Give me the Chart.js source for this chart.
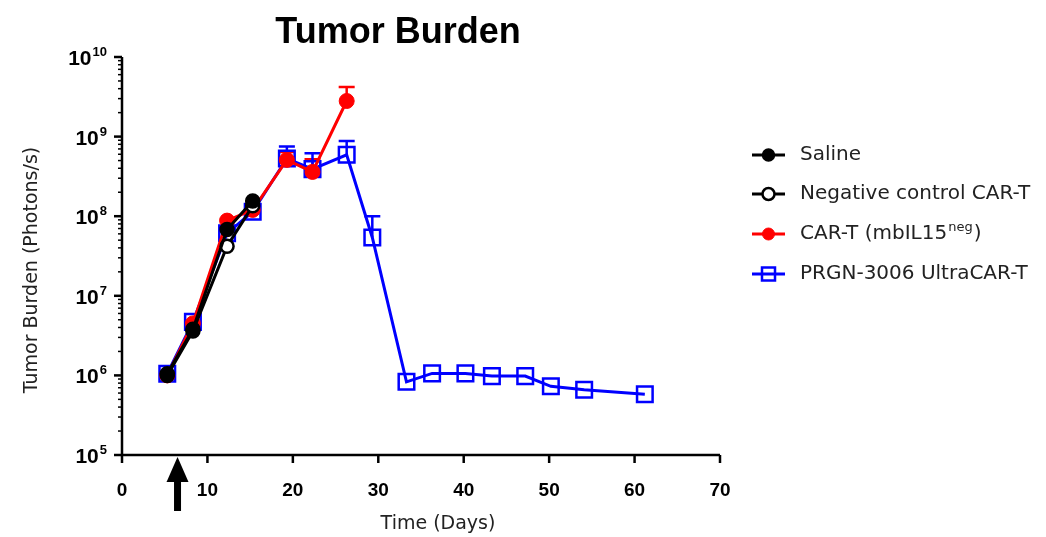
<!DOCTYPE html>
<html>
<head>
<meta charset="utf-8">
<title>Tumor Burden</title>
<script src="https://cdn.jsdelivr.net/npm/chart.js@4.4.1/dist/chart.umd.min.js"></script>
<style>
  html, body { margin: 0; padding: 0; background: #fff; }
  #wrap { width: 1046px; height: 537px; position: relative; }
</style>
</head>
<body>
<div id="wrap"><canvas id="tumor-chart" width="1046" height="537"></canvas></div>
<script>
// --- data ---
const salineDays = [5.3, 8.3, 12.3, 15.3];
const salineVals = [1.05e6, 3.8e6, 6.8e7, 1.55e8];

const negDays = [5.3, 8.3, 12.3, 15.3];
const negVals = [1.0e6, 3.6e6, 4.2e7, 1.35e8];

const carDays = [5.3, 8.3, 12.3, 15.3, 19.3, 22.3, 26.3];
const carVals = [1.0e6, 4.5e6, 8.8e7, 1.2e8, 5.1e8, 3.6e8, 2.8e9];
const carErr  = [0, 0, 0, 0, 1.3e8, 1.6e8, 1.4e9];

const ultraDays = [5.3, 8.3, 12.3, 15.3, 19.3, 22.3, 26.3, 29.3,
                   33.3, 36.3, 40.2, 43.3, 47.2, 50.2, 54.1, 61.2];
const ultraVals = [1.05e6, 4.7e6, 6.1e7, 1.14e8, 5.3e8, 3.9e8, 5.9e8, 5.4e7,
                   8.3e5, 1.06e6, 1.06e6, 9.8e5, 9.8e5, 7.3e5, 6.6e5, 5.8e5];
const ultraErr  = [0, 0, 0, 0, 2.2e8, 2.3e8, 2.9e8, 4.6e7, 0, 0, 0, 0, 0, 0, 0, 0];

const xTicks = [0, 10, 20, 30, 40, 50, 60, 70];
const yDecades = [5, 6, 7, 8, 9, 10];
const dosingDay = 6.5;

const legendLabels = ['Saline', 'Negative control CAR-T', 'CAR-T (mbIL15', 'PRGN-3006 UltraCAR-T'];

function pts(days, vals) {
  return days.map((d, i) => ({ x: d, y: vals[i] }));
}

const FONT = '"DejaVu Sans", sans-serif';
const BOLD = '"Liberation Sans", Arial, sans-serif';

// error bars (upper only), drawn under the markers
const errorBars = {
  id: 'errorBars',
  beforeDatasetsDraw(chart) {
    const ctx = chart.ctx;
    const xs = chart.scales.x, ys = chart.scales.y;
    chart.data.datasets.forEach((ds) => {
      if (!ds.errUp) return;
      ctx.save();
      ctx.strokeStyle = ds.borderColor;
      ctx.lineWidth = 2.5;
      ds.data.forEach((p, i) => {
        const e = ds.errUp[i];
        if (!e) return;
        const px = xs.getPixelForValue(p.x);
        const y0 = ys.getPixelForValue(p.y);
        const y1 = ys.getPixelForValue(p.y + e);
        ctx.beginPath();
        ctx.moveTo(px, y0);
        ctx.lineTo(px, y1);
        ctx.moveTo(px - 8, y1);
        ctx.lineTo(px + 8, y1);
        ctx.stroke();
      });
      ctx.restore();
    });
  }
};

function drawMarker(ctx, ds, x, y) {
  ctx.save();
  ctx.lineWidth = ds.pointBorderWidth;
  ctx.strokeStyle = ds.pointBorderColor;
  ctx.fillStyle = ds.pointBackgroundColor;
  ctx.beginPath();
  if (ds.pointStyle === 'rect') {
    const s = 6.5;
    ctx.rect(x - s, y - s, 2 * s, 2 * s);
  } else {
    ctx.arc(x, y, 6, 0, Math.PI * 2);
  }
  ctx.fill();
  ctx.stroke();
  ctx.restore();
}

// axes, labels, title, legend and the dosing arrow
const decorations = {
  id: 'decorations',
  afterDraw(chart) {
    const ctx = chart.ctx;
    const a = chart.chartArea;
    const xs = chart.scales.x, ys = chart.scales.y;
    ctx.save();
    ctx.strokeStyle = '#000';
    ctx.fillStyle = '#000';
    ctx.lineWidth = 2.5;

    // axis lines
    ctx.beginPath();
    ctx.moveTo(a.left, a.top);
    ctx.lineTo(a.left, a.bottom);
    ctx.lineTo(a.right, a.bottom);
    ctx.stroke();

    // x ticks + labels
    ctx.font = 'bold 19px ' + BOLD;
    ctx.textAlign = 'center';
    ctx.textBaseline = 'middle';
    xTicks.forEach(t => {
      const px = xs.getPixelForValue(t);
      ctx.beginPath();
      ctx.moveTo(px, a.bottom);
      ctx.lineTo(px, a.bottom + 8);
      ctx.stroke();
      ctx.fillText(String(t), px, a.bottom + 36);
    });

    // y ticks (major + minor) + labels
    yDecades.forEach((d, k) => {
      const py = ys.getPixelForValue(Math.pow(10, d));
      ctx.lineWidth = 2.5;
      ctx.beginPath();
      ctx.moveTo(a.left, py);
      ctx.lineTo(a.left - 8, py);
      ctx.stroke();
      if (k < yDecades.length - 1) {
        ctx.lineWidth = 1.5;
        for (let m = 2; m <= 9; m++) {
          const my = ys.getPixelForValue(m * Math.pow(10, d));
          ctx.beginPath();
          ctx.moveTo(a.left, my);
          ctx.lineTo(a.left - 4, my);
          ctx.stroke();
        }
      }
      const exp = String(d);
      ctx.font = 'bold 13px ' + BOLD;
      const ew = ctx.measureText(exp).width;
      ctx.font = 'bold 21px ' + BOLD;
      const bw = ctx.measureText('10').width;
      const right = a.left - 15;
      ctx.textAlign = 'left';
      ctx.textBaseline = 'alphabetic';
      ctx.fillText('10', right - ew - bw - 1, py + 8);
      ctx.font = 'bold 13px ' + BOLD;
      ctx.fillText(exp, right - ew, py - 1);
    });

    // title
    ctx.font = 'bold 36px ' + BOLD;
    ctx.textAlign = 'center';
    ctx.textBaseline = 'alphabetic';
    ctx.fillText('Tumor Burden', 398, 43);

    // axis titles
    ctx.fillStyle = '#222';
    ctx.font = '19px ' + FONT;
    ctx.textBaseline = 'middle';
    ctx.fillText('Time (Days)', 438, 524);
    ctx.save();
    ctx.translate(32, 270);
    ctx.rotate(-Math.PI / 2);
    ctx.fillText('Tumor Burden (Photons/s)', 0, 0);
    ctx.restore();

    // dosing arrow
    const ax = xs.getPixelForValue(dosingDay);
    ctx.fillStyle = '#000';
    ctx.beginPath();
    ctx.moveTo(ax, a.bottom + 2);
    ctx.lineTo(ax - 11, a.bottom + 27);
    ctx.lineTo(ax + 11, a.bottom + 27);
    ctx.closePath();
    ctx.fill();
    ctx.fillRect(ax - 3.5, a.bottom + 26, 7, 30);

    // legend
    const rows = [155, 194, 234, 274];
    chart.data.datasets.forEach((ds, i) => {
      const y = rows[i];
      ctx.strokeStyle = ds.borderColor;
      ctx.lineWidth = 3;
      ctx.beginPath();
      ctx.moveTo(752, y);
      ctx.lineTo(785, y);
      ctx.stroke();
      drawMarker(ctx, ds, 768.5, y);
      ctx.fillStyle = '#222';
      ctx.font = '20px ' + FONT;
      ctx.textAlign = 'left';
      ctx.textBaseline = 'middle';
      ctx.fillText(legendLabels[i], 800, y);
      if (i === 2) {
        let x = 800 + ctx.measureText(legendLabels[i]).width;
        ctx.font = '13px ' + FONT;
        ctx.fillText('neg', x + 1, y - 6);
        x += ctx.measureText('neg').width + 2;
        ctx.font = '20px ' + FONT;
        ctx.fillText(')', x, y);
      }
    });
    ctx.restore();
  }
};

const ctx = document.getElementById('tumor-chart');
new Chart(ctx, {
  type: 'line',
  data: {
    datasets: [
      {
        label: 'Saline',
        data: pts(salineDays, salineVals),
        borderColor: '#000',
        borderWidth: 3,
        pointStyle: 'circle',
        pointRadius: 7,
        pointBorderWidth: 1.5,
        pointBorderColor: '#000',
        pointBackgroundColor: '#000'
      },
      {
        label: 'Negative control CAR-T',
        data: pts(negDays, negVals),
        borderColor: '#000',
        borderWidth: 3,
        pointStyle: 'circle',
        pointRadius: 6.5,
        pointBorderWidth: 2.5,
        pointBorderColor: '#000',
        pointBackgroundColor: '#fff'
      },
      {
        label: 'CAR-T (mbIL15neg)',
        data: pts(carDays, carVals),
        errUp: carErr,
        borderColor: '#ff0000',
        borderWidth: 3,
        pointStyle: 'circle',
        pointRadius: 7.5,
        pointBorderWidth: 1,
        pointBorderColor: '#ff0000',
        pointBackgroundColor: '#ff0000'
      },
      {
        label: 'PRGN-3006 UltraCAR-T',
        data: pts(ultraDays, ultraVals),
        errUp: ultraErr,
        borderColor: '#0000ff',
        borderWidth: 3,
        pointStyle: 'rect',
        pointRadius: 11,
        pointBorderWidth: 2.5,
        pointBorderColor: '#0000ff',
        pointBackgroundColor: 'rgba(255,255,255,0)'
      }
    ]
  },
  options: {
    responsive: false,
    animation: false,
    layout: { padding: { left: 122, right: 326, top: 57, bottom: 82 } },
    plugins: { legend: { display: false }, tooltip: { enabled: false } },
    scales: {
      x: { type: 'linear', min: 0, max: 70, display: false },
      y: { type: 'logarithmic', min: 1e5, max: 1e10, display: false }
    }
  },
  plugins: [errorBars, decorations]
});
</script>
</body>
</html>
